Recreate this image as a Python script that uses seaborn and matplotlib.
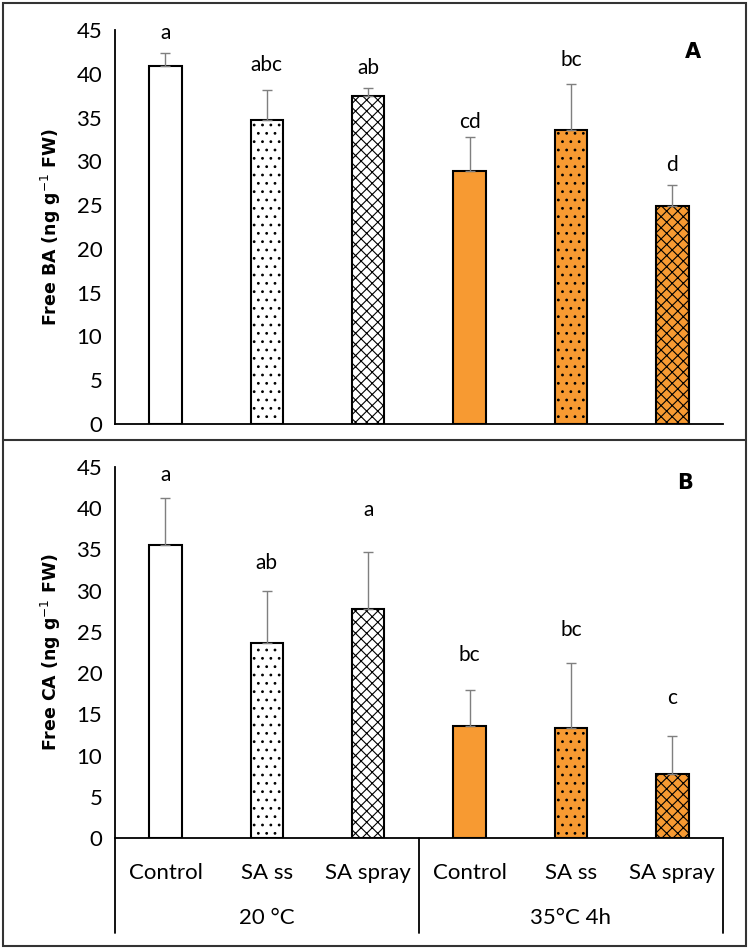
import numpy as np
import pandas as pd
import seaborn as sns
import matplotlib.pyplot as plt
from matplotlib.lines import Line2D
from matplotlib.patches import Rectangle

# values
treatments = ['Control', 'SA ss', 'SA spray', 'Control', 'SA ss', 'SA spray']
groups = ['20 °C', '35°C 4h']
ba_mean = [40.9, 34.7, 37.5, 28.9, 33.6, 24.9]
ba_err = [1.5, 3.5, 0.9, 3.9, 5.2, 2.4]
ba_letters = ['a', 'abc', 'ab', 'cd', 'bc', 'd']
ba_letter_y = [44.6, 41.0, 40.7, 34.5, 41.6, 29.6]
ca_mean = [35.5, 23.6, 27.8, 13.6, 13.3, 7.7]
ca_err = [5.7, 6.3, 6.9, 4.4, 7.9, 4.7]
ca_letters = ['a', 'ab', 'a', 'bc', 'bc', 'c']
ca_letter_y = [44.0, 33.4, 39.8, 22.2, 25.2, 17.0]

bar_colors = ['white', 'white', 'white', '#F79A32', '#F79A32', '#F79A32']
hatches = ['', '..', 'xxx', '', '..', 'xxx']

sns.set_style('white')
plt.rcParams['font.family'] = ['Lato', 'DejaVu Sans']
plt.rcParams['hatch.linewidth'] = 0.8
for k in ['text.color', 'axes.labelcolor', 'xtick.color', 'ytick.color']:
    plt.rcParams[k] = 'black'

fig = plt.figure(figsize=(7.5, 9.49), dpi=100)
ax_a = fig.add_axes([0.153, 0.5532, 0.811, 0.4152])
ax_b = fig.add_axes([0.153, 0.1170, 0.811, 0.3909])


def draw_panel(ax, mean, err, letters, letter_y, ylabel, tag, tag_pos):
    df = pd.DataFrame({'pos': [str(i) for i in range(len(mean))], 'val': mean})
    sns.barplot(data=df, x='pos', y='val', hue='pos', palette=bar_colors,
                legend=False, width=0.32, edgecolor='black', linewidth=1.5,
                saturation=1, ax=ax)
    for p, h in zip(ax.patches, hatches):
        p.set_hatch(h)
    x = np.arange(len(mean))
    ax.errorbar(x, mean, yerr=[np.zeros(len(err)), err], fmt='none',
                ecolor='#7f7f7f', elinewidth=1, capsize=3.5, capthick=1)
    for xi, t, yy in zip(x, letters, letter_y):
        ax.text(xi, yy, t, ha='center', va='center', fontsize=15)
    ax.set_ylim(0, 45)
    ax.set_xlim(-0.5, 5.5)
    ax.set_yticks(range(0, 46, 5))
    ax.tick_params(axis='y', length=0, labelsize=16, pad=9)
    ax.set_ylabel(ylabel, fontsize=12.5, fontweight='bold',
                  family='DejaVu Sans', labelpad=10)
    ax.set_xlabel('')
    for s in ['top', 'right']:
        ax.spines[s].set_visible(False)
    for s in ['left', 'bottom']:
        ax.spines[s].set_color('black')
        ax.spines[s].set_linewidth(1.3)
    ax.text(tag_pos[0], tag_pos[1], tag, transform=ax.transAxes,
            fontsize=15, fontweight='bold', family='DejaVu Sans',
            ha='center', va='center')


draw_panel(ax_a, ba_mean, ba_err, ba_letters, ba_letter_y,
           'Free BA (ng g$^{-1}$ FW)', 'A', (0.95, 0.944))
ax_a.set_xticks([])

draw_panel(ax_b, ca_mean, ca_err, ca_letters, ca_letter_y,
           'Free CA (ng g$^{-1}$ FW)', 'B', (0.937, 0.957))
ax_b.set_xticks(range(len(treatments)))
ax_b.set_xticklabels(treatments, fontsize=16)
ax_b.tick_params(axis='x', length=0, pad=18)

# category table below panel B
trans = ax_b.get_xaxis_transform()
for xv in [-0.5, 2.5, 5.5]:
    ax_b.add_line(Line2D([xv, xv], [0, -0.256], transform=trans,
                         color='black', lw=1.3, clip_on=False))
for xc, g in zip([1, 4], groups):
    ax_b.text(xc, -0.217, g, transform=trans, ha='center', va='center',
              fontsize=16)

# panel frames
fig.add_artist(Rectangle((3 / 750, 1 - 946 / 949), 743 / 750, 943 / 949,
                         transform=fig.transFigure, fill=False,
                         edgecolor='#333333', lw=1.5))
fig.add_artist(Line2D([3 / 750, 746 / 750], [1 - 440 / 949, 1 - 440 / 949],
                      transform=fig.transFigure, color='#333333', lw=1.5))

fig.savefig('out.png', dpi=100)
